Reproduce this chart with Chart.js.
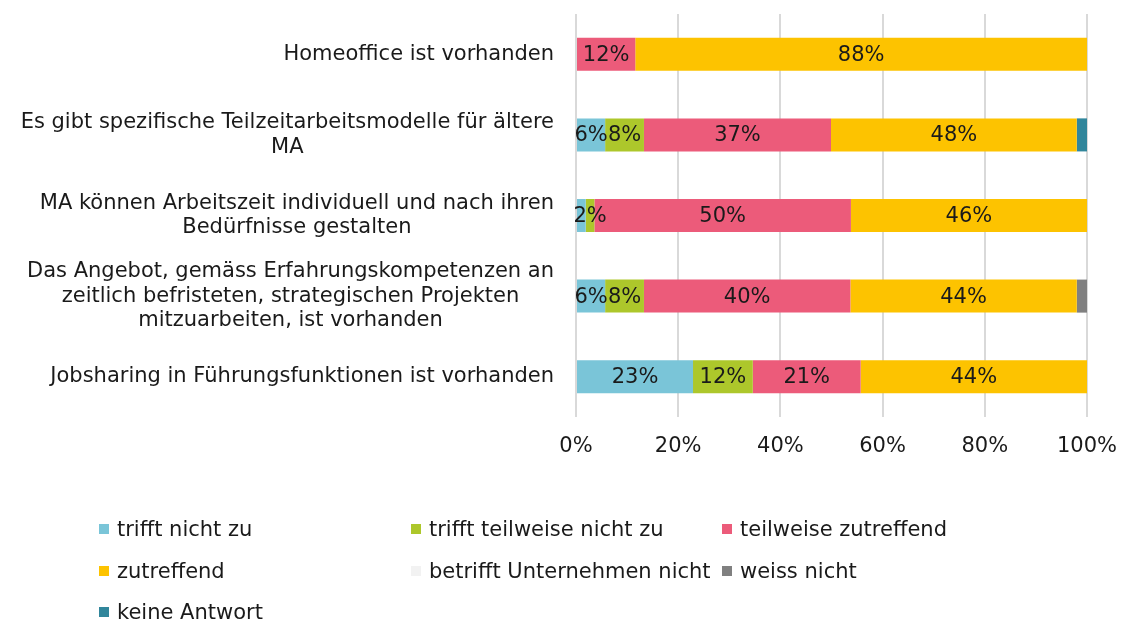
<!doctype html>
<html lang="de">

<head>
    <meta charset="utf-8">
    <title>Flexible Arbeitsmodelle</title>
    <style>
        * {
            margin: 0;
            padding: 0;
        }

        body {
            background: #fff;
            overflow: hidden;
            font-family: 'DejaVu Sans', Verdana, sans-serif;
        }

        .chartBox {
            position: relative;
            width: 1122px;
            height: 621px;
        }

        .legend {
            position: absolute;
            left: 0;
            top: 0;
            width: 1122px;
            height: 621px;
            pointer-events: none;
        }

        .legend div {
            position: absolute;
            font-size: 21px;
            color: #1a1a1a;
            white-space: nowrap;
            line-height: 26px;
        }

        .legend span {
            display: inline-block;
            width: 10px;
            height: 10px;
            margin-right: 8px;
            vertical-align: 2px;
        }
    </style>
</head>

<body>
    <div class="chartBox">
        <canvas id="myChart"></canvas>
        <div class="legend" id="legend"></div>
    </div>
    <script src="https://cdn.jsdelivr.net/npm/chart.js/dist/chart.umd.min.js"></script>
    <script>
        // categories (multi-line labels)
        const categories = [
            ['Homeoffice ist vorhanden'],
            ['Es gibt spezifische Teilzeitarbeitsmodelle für ältere', 'MA'],
            ['MA können Arbeitszeit individuell und nach ihren', 'Bedürfnisse gestalten'],
            ['Das Angebot, gemäss Erfahrungskompetenzen an', 'zeitlich befristeten, strategischen Projekten', 'mitzuarbeiten, ist vorhanden'],
            ['Jobsharing in Führungsfunktionen ist vorhanden']
        ];

        // shares in percent per answer
        const trifftNichtZu = [0, 5.7, 1.9, 5.7, 22.9];
        const trifftTeilweiseNichtZu = [0, 7.6, 1.7, 7.6, 11.7];
        const teilweiseZutreffend = [11.6, 36.6, 50.2, 40.4, 21.1];
        const zutreffend = [88.4, 48.1, 46.2, 44.3, 44.3];
        const betrifftNicht = [0, 0, 0, 0, 0];
        const weissNicht = [0, 0, 0, 2.0, 0];
        const keineAntwort = [0, 2.0, 0, 0, 0];

        const xTicks = [0, 20, 40, 60, 80, 100];

        const FONT = "'DejaVu Sans', Verdana, sans-serif";

        const series = [
            { label: 'trifft nicht zu', data: trifftNichtZu, color: '#7AC5D8', showValues: true },
            { label: 'trifft teilweise nicht zu', data: trifftTeilweiseNichtZu, color: '#ADC72B', showValues: true },
            { label: 'teilweise zutreffend', data: teilweiseZutreffend, color: '#EC5B7A', showValues: true },
            { label: 'zutreffend', data: zutreffend, color: '#FDC300', showValues: true },
            { label: 'betrifft Unternehmen nicht', data: betrifftNicht, color: '#F2F2F2', showValues: false },
            { label: 'weiss nicht', data: weissNicht, color: '#808080', showValues: false },
            { label: 'keine Antwort', data: keineAntwort, color: '#31869B', showValues: false }
        ];

        const data = {
            labels: categories,
            datasets: series.map(s => ({
                label: s.label,
                data: s.data,
                backgroundColor: s.color,
                borderWidth: 0,
                barPercentage: 0.41,
                categoryPercentage: 1,
                showValues: s.showValues
            }))
        };

        // category labels: block right-aligned, lines centred within the block
        const categoryLabels = {
            id: 'categoryLabels',
            afterDraw(chart) {
                const { ctx, chartArea: { left }, scales: { y } } = chart;
                ctx.save();
                ctx.font = `21px ${FONT}`;
                ctx.fillStyle = '#1a1a1a';
                ctx.textAlign = 'center';
                ctx.textBaseline = 'middle';
                const lineH = 24.5;
                const right = left - 22;
                chart.data.labels.forEach((lines, i) => {
                    const maxW = Math.max(...lines.map(l => ctx.measureText(l).width));
                    const cx = right - maxW / 2;
                    const cy = y.getPixelForValue(i);
                    lines.forEach((line, k) => {
                        ctx.fillText(line, cx, cy + (k - (lines.length - 1) / 2) * lineH);
                    });
                });
                ctx.restore();
            }
        };

        // percent values centred on each segment
        const valueLabels = {
            id: 'valueLabels',
            afterDatasetsDraw(chart) {
                const { ctx } = chart;
                ctx.save();
                ctx.font = `21px ${FONT}`;
                ctx.fillStyle = '#1a1a1a';
                ctx.textAlign = 'center';
                ctx.textBaseline = 'middle';
                chart.data.labels.forEach((_, i) => {
                    const items = [];
                    chart.data.datasets.forEach((ds, d) => {
                        const v = ds.data[i];
                        if (!ds.showValues || v < 1.5) return;
                        const bar = chart.getDatasetMeta(d).data[i];
                        const cx = (bar.x + bar.base) / 2;
                        // overlapping neighbours: keep the later one
                        if (items.length && cx - items[items.length - 1].x < 14) items.pop();
                        items.push({ x: cx, y: bar.y + 1, text: Math.round(v) + '%' });
                    });
                    items.forEach(it => ctx.fillText(it.text, it.x, it.y));
                });
                ctx.restore();
            }
        };

        const config = {
            type: 'bar',
            data,
            options: {
                indexAxis: 'y',
                responsive: true,
                maintainAspectRatio: false,
                animation: false,
                layout: {
                    padding: { top: 14, right: 35, left: 0, bottom: 0 }
                },
                plugins: {
                    legend: { display: false },
                    tooltip: { enabled: false }
                },
                scales: {
                    x: {
                        stacked: true,
                        min: 0,
                        max: 100,
                        afterBuildTicks(scale) {
                            scale.ticks = xTicks.map(v => ({ value: v }));
                        },
                        afterFit(scale) {
                            scale.height = 621 - 417;
                            scale.paddingLeft = 0;
                            scale.paddingRight = 0;
                        },
                        grid: {
                            color: '#D9D9D9',
                            lineWidth: 2,
                            drawTicks: false
                        },
                        border: { display: false },
                        ticks: {
                            padding: 17,
                            color: '#1a1a1a',
                            font: { family: FONT, size: 21 },
                            maxRotation: 0,
                            callback: v => v + '%'
                        }
                    },
                    y: {
                        stacked: true,
                        afterFit(scale) {
                            scale.width = 576;
                        },
                        grid: { display: false },
                        border: { display: false },
                        ticks: { display: false }
                    }
                }
            },
            plugins: [categoryLabels, valueLabels]
        };

        const myChart = new Chart(document.getElementById('myChart'), config);

        // legend in three fixed columns
        const legendCols = [99, 411, 722];
        const legendRows = [516, 558, 599];
        const legendEl = document.getElementById('legend');
        series.forEach((s, i) => {
            const item = document.createElement('div');
            item.style.left = legendCols[i % 3] + 'px';
            item.style.top = legendRows[Math.floor(i / 3)] + 'px';
            item.innerHTML = `<span style="background:${s.color}"></span>${s.label}`;
            legendEl.appendChild(item);
        });
    </script>

</body>

</html>
